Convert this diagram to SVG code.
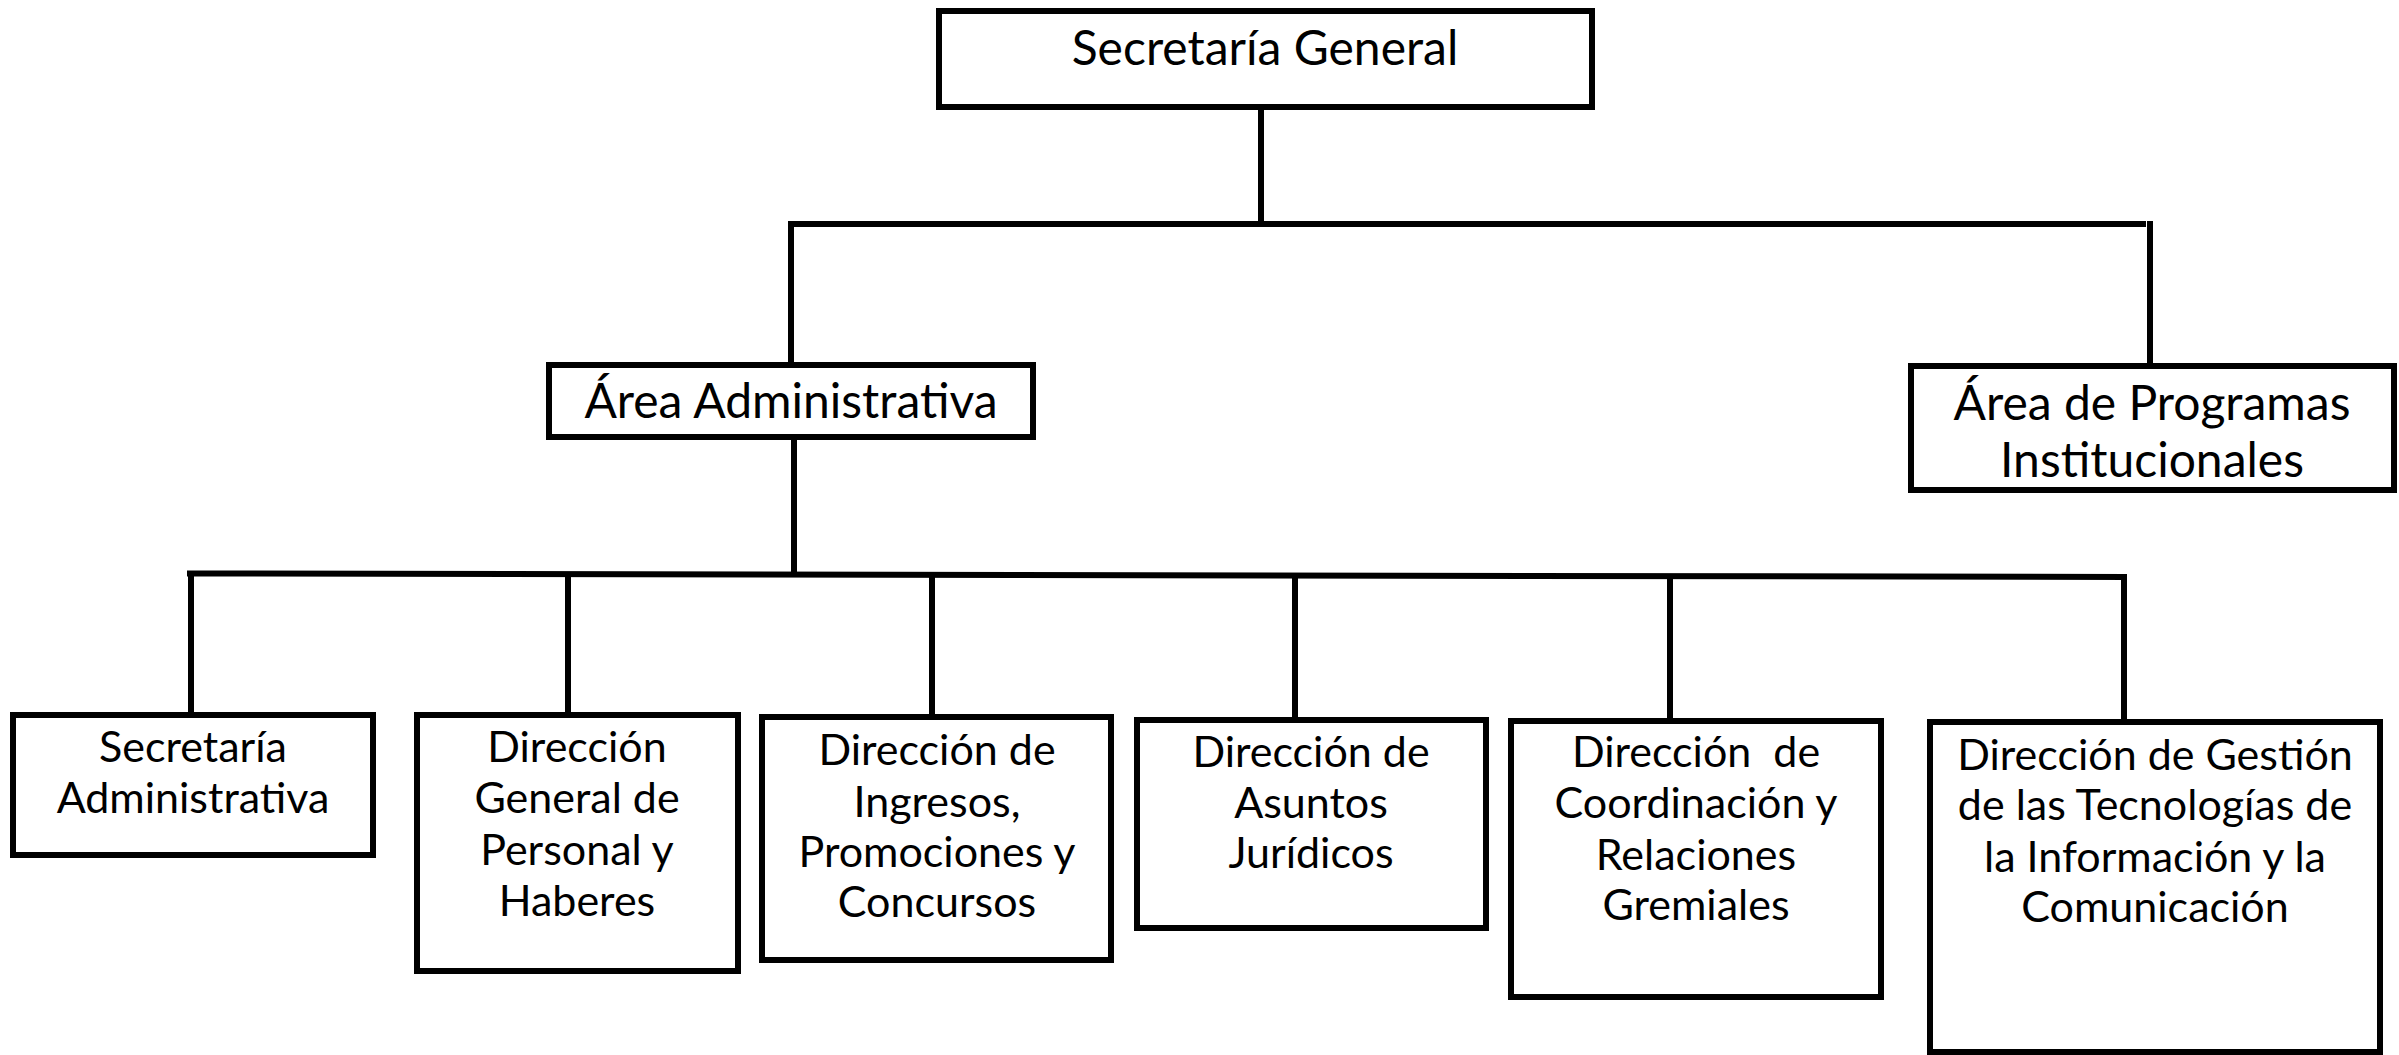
<svg xmlns="http://www.w3.org/2000/svg" width="2399" height="1055" viewBox="0 0 2399 1055">
<style>
.box{fill:#fff;stroke:#000;stroke-width:6}
.con{fill:none;stroke:#000;stroke-width:6}
text{font-family:Lato,"Open Sans","Liberation Sans",sans-serif;fill:#000;text-anchor:middle}
.big{font-size:48px}
.sm{font-size:43px}
</style>
<rect width="2399" height="1055" fill="#fff"/>
<g id="connectors">
<path class="con" d="M1261,107 V224"/>
<path class="con" d="M791,224 H2146"/>
<path class="con" d="M791,221 V365"/>
<path class="con" d="M2150,221 V366"/>
<path class="con" d="M794,437 V575"/>
<path class="con" d="M187,573.5 L2127,577"/>
<path class="con" d="M191,571 V715"/>
<path class="con" d="M568,572 V715"/>
<path class="con" d="M932,572 V717"/>
<path class="con" d="M1295,573 V720"/>
<path class="con" d="M1670,574 V721"/>
<path class="con" d="M2124,574 V722"/>
</g>
<g id="secretaria-general">
<rect class="box" x="939" y="11" width="653" height="96"/>
<text class="big" x="1265" y="65">Secretaría General</text>
</g>
<g id="area-administrativa">
<rect class="box" x="549" y="365" width="484" height="72"/>
<text class="big" x="791" y="418">Área Administrativa</text>
</g>
<g id="area-programas">
<rect class="box" x="1911" y="366" width="483" height="124"/>
<text class="big" x="2152" y="420">Área de Programas</text>
<text class="big" x="2152" y="477">Institucionales</text>
</g>
<g id="secretaria-administrativa">
<rect class="box" x="13" y="715" width="360" height="140"/>
<text class="sm" x="193" y="762">Secretaría</text>
<text class="sm" x="193" y="813">Administrativa</text>
</g>
<g id="dir-personal">
<rect class="box" x="417" y="715" width="321" height="256"/>
<text class="sm" x="577" y="762">Dirección</text>
<text class="sm" x="577" y="813">General de</text>
<text class="sm" x="577" y="865">Personal y</text>
<text class="sm" x="577" y="916">Haberes</text>
</g>
<g id="dir-ingresos">
<rect class="box" x="762" y="717" width="349" height="243"/>
<text class="sm" x="937" y="765">Dirección de</text>
<text class="sm" x="937" y="817">Ingresos,</text>
<text class="sm" x="937" y="867">Promociones y</text>
<text class="sm" x="937" y="917">Concursos</text>
</g>
<g id="dir-juridicos">
<rect class="box" x="1137" y="720" width="349" height="208"/>
<text class="sm" x="1311" y="767">Dirección de</text>
<text class="sm" x="1311" y="818">Asuntos</text>
<text class="sm" x="1311" y="868">Jurídicos</text>
</g>
<g id="dir-gremiales">
<rect class="box" x="1511" y="721" width="370" height="276"/>
<text class="sm" x="1696" y="767" xml:space="preserve">Dirección  de</text>
<text class="sm" x="1696" y="818">Coordinación y</text>
<text class="sm" x="1696" y="870">Relaciones</text>
<text class="sm" x="1696" y="920">Gremiales</text>
</g>
<g id="dir-tic">
<rect class="box" x="1930" y="722" width="450" height="330"/>
<text class="sm" x="2155" y="770">Dirección de Gestión</text>
<text class="sm" x="2155" y="820">de las Tecnologías de</text>
<text class="sm" x="2155" y="872">la Información y la</text>
<text class="sm" x="2155" y="922">Comunicación</text>
</g>
</svg>
